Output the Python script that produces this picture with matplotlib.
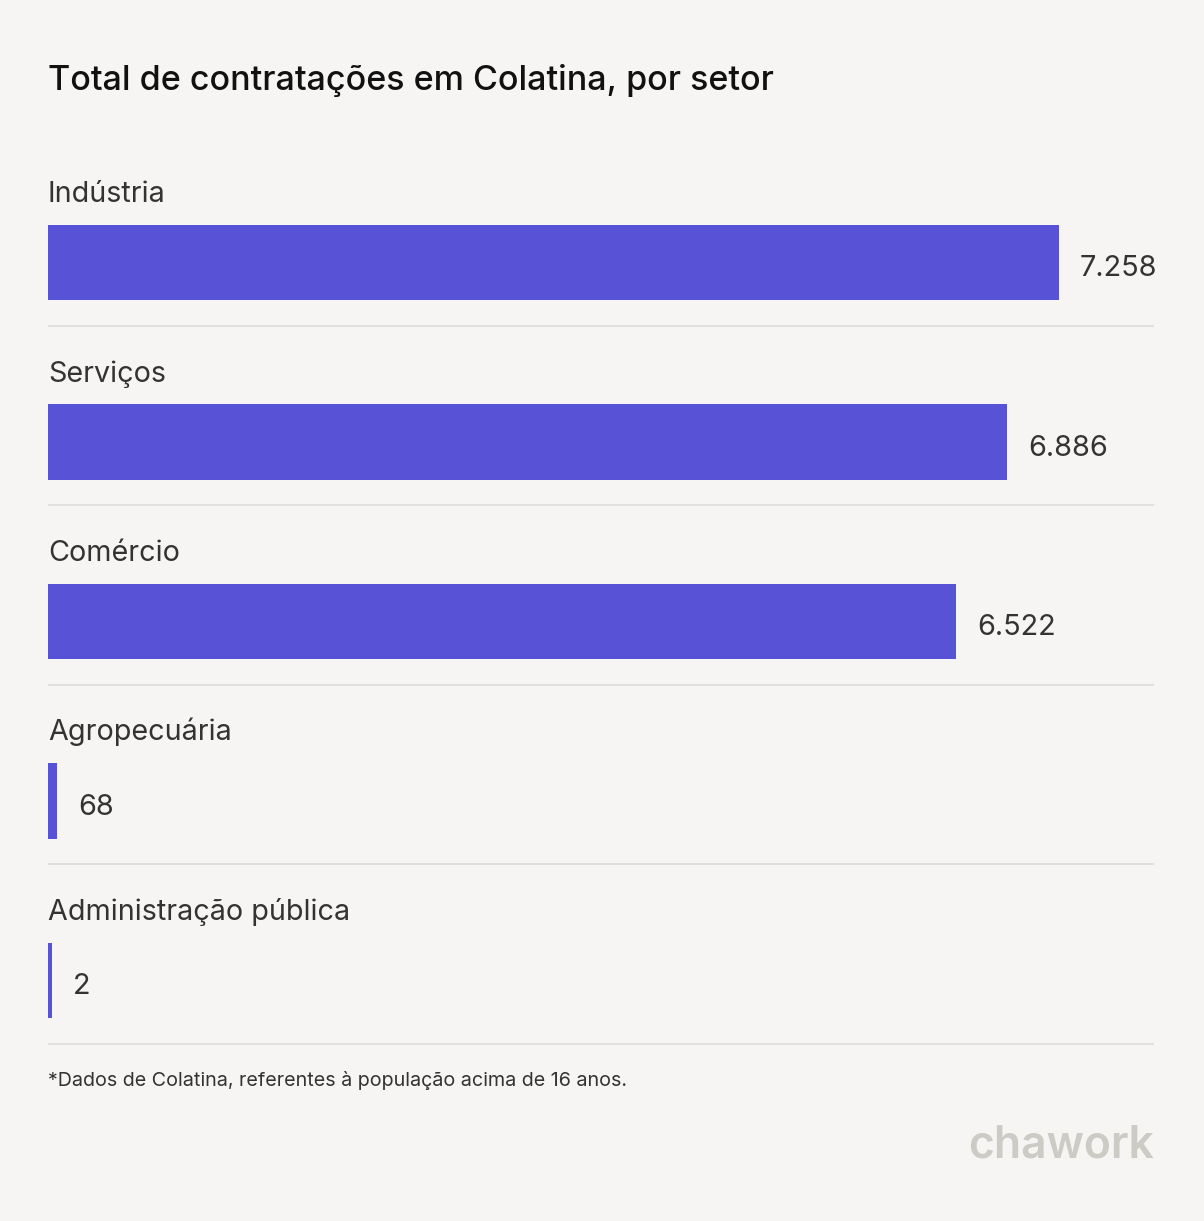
import numpy as np
import matplotlib
matplotlib.use("Agg")
from matplotlib import pyplot as plt

plt.rcParams['font.family'] = ['Inter', 'DejaVu Sans']

# Dados
setores = ["Indústria", "Serviços", "Comércio", "Agropecuária", "Administração pública"]
valores = [7258, 6886, 6522, 68, 2]
rotulos = ["7.258", "6.886", "6.522", "68", "2"]

titulo = "Total de contratações em Colatina, por setor"
nota = "*Dados de Colatina, referentes à população acima de 16 anos."

fundo = "#F6F5F3"
cor_barra = "#5752D6"
cor_texto = "#333333"

W, H = 1204, 1221
fig = plt.figure(figsize=(W / 100, H / 100), dpi=100, facecolor=fundo)

# eixo em pixels: x de 48 a 1154, y de 144 a 1046
x0, x1 = 48, 1154
y_top, y_bot = 144, 1046
ax = fig.add_axes([x0 / W, 1 - y_bot / H, (x1 - x0) / W, (y_bot - y_top) / H])
ax.set_facecolor(fundo)

passo = 179.5
xmax = max(valores) * (x1 - x0) / 1011
ax.set_xlim(0, xmax)
ax.set_ylim((y_bot - 262.5) / passo, -(262.5 - y_top) / passo)
ax.axis("off")

ypos = np.arange(len(setores))
minimo = 4 * xmax / (x1 - x0)  # largura minima visivel da barra
larguras = np.maximum(valores, minimo)
ax.barh(ypos, larguras, height=75.5 / passo, color=cor_barra, left=0)

for i, (s, w, r) in enumerate(zip(setores, larguras, rotulos)):
    ax.text(0, i - 60.5 / passo, s, fontsize=20.7, color=cor_texto,
            ha="left", va="baseline")
    ax.annotate(r, (w, i), xytext=(15, -2.2), textcoords="offset points",
                fontsize=20.8, color=cor_texto, ha="left", va="center_baseline")
    ax.plot([0, xmax], [i + 63 / passo] * 2, color="#E2E0DD", lw=1.5,
            solid_capstyle="butt")

fig.text(48 / W, 1 - 90 / H, titulo, fontsize=24.5, color="#111111",
         ha="left", va="baseline", fontweight="medium")
fig.text(48 / W, 1 - 1086 / H, nota, fontsize=14.2, color=cor_texto,
         ha="left", va="baseline")
fig.text(1154 / W, 1 - 1158 / H, "chawork", fontsize=32, color="#CDCBC5",
         ha="right", va="baseline", fontweight="semibold")

fig.savefig("out.png", dpi=100, facecolor=fundo)
